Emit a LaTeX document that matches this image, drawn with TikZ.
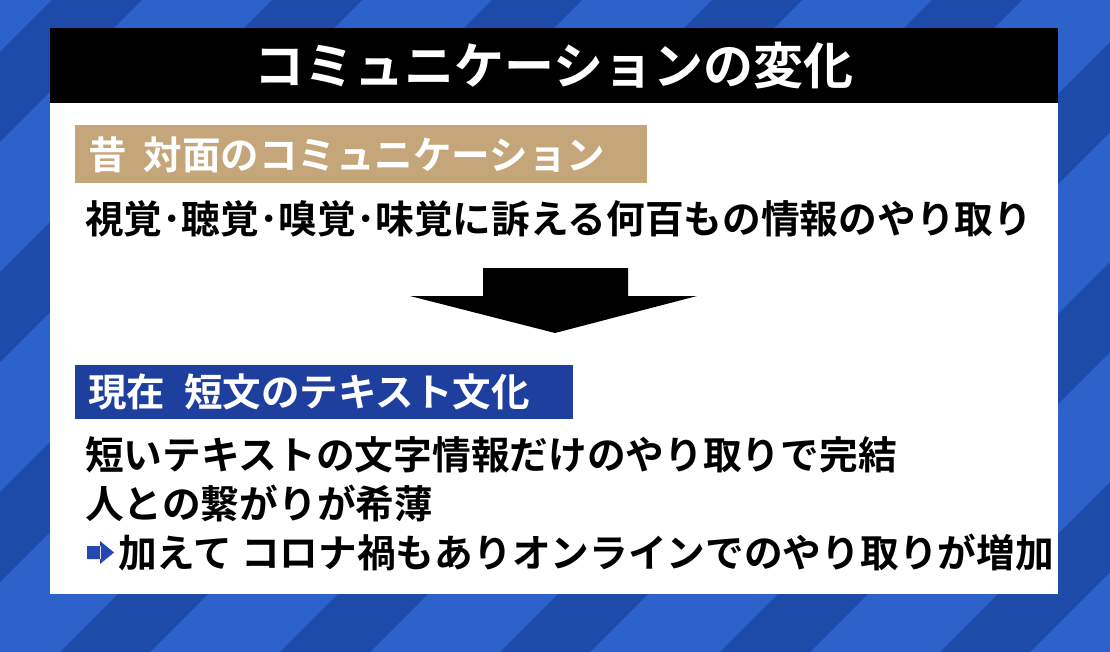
\documentclass[tikz,border=0pt]{standalone}
\usepackage{fontspec}
\setmainfont{Noto Sans CJK JP}
\newfontfamily\jpb{Noto Sans CJK JP Bold}
\definecolor{bgA}{HTML}{2C62C9}
\definecolor{bgB}{HTML}{1D4BAA}
\definecolor{tan}{HTML}{C4A67A}
\definecolor{navy}{HTML}{1F3F9F}
\definecolor{arr}{HTML}{2447B0}
\tikzset{
 line/.style={anchor=west, font=\jpb\fontsize{38.7}{42}\selectfont, text=black, inner sep=0},
 lab/.style={anchor=west, font=\jpb\fontsize{38.5}{42}\selectfont, text=white, inner sep=0},
}
\begin{document}
\begin{tikzpicture}[x=1pt,y=-1pt]
\useasboundingbox (0,0) rectangle (1110,652);
\fill[bgA] (0,0) rectangle (1110,652);
\begin{scope}
\clip (0,0) rectangle (1110,652);
\foreach \s in {-600,-380,...,1800}{
  \fill[bgB] (\s,652) -- (\s+90,652) -- (\s+90+652,0) -- (\s+652,0) -- cycle;
}
\end{scope}
\fill[white] (50,28) rectangle (1058,594);
\fill[black] (50,28) rectangle (1058,103);
\node[font=\jpb\fontsize{50}{54}\selectfont, text=white] (title) at (554,66) {コミュニケーションの変化};
\fill[tan] (75,125) rectangle (647,183);
\node[lab] (l1) at (88,155) {昔\hspace{0.45em}対面のコミュニケーション};
\node[line] (t1) at (85,219) {視覚･聴覚･嗅覚･味覚に訴える何百もの情報のやり取り};
\fill[black] (483,268) -- (628,268) -- (628,296) -- (697,296) -- (555,333) -- (410,296) -- (483,296) -- cycle;
\fill[navy] (75,365) rectangle (573,419);
\node[lab] (l2) at (88,392) {現在\hspace{0.5em}短文のテキスト文化};
\node[line] (t2) at (85,455) {短いテキストの文字情報だけのやり取りで完結};
\node[line] (t3) at (85,503) {人との繋がりが希薄};
\fill[arr] (87,546) rectangle (101,559) (100,541) -- (114,552.5) -- (100,564) -- cycle;
\node[line] (t4) at (118,552) {加えて コロナ禍もありオンラインでのやり取りが増加};
\end{tikzpicture}
\end{document}
